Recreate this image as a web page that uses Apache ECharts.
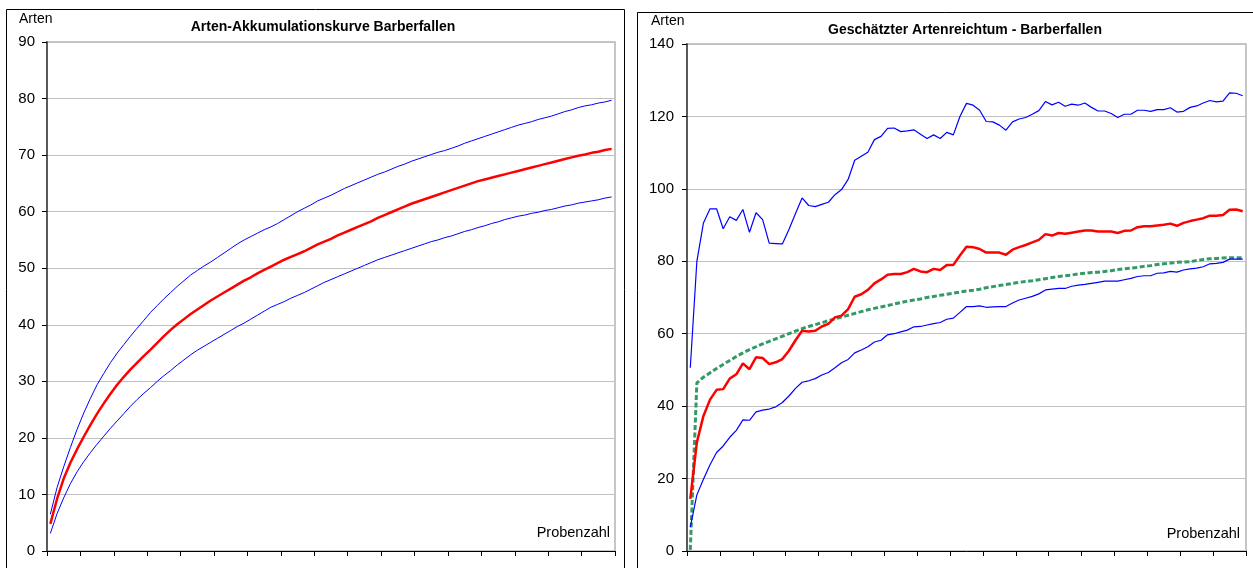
<!DOCTYPE html>
<html>
<head>
<meta charset="utf-8">
<script src="https://cdn.jsdelivr.net/npm/echarts@6/dist/echarts.min.js"></script>
<style>
  html, body { margin: 0; padding: 0; background: #fff; }
  #chart { width: 1253px; height: 568px; }
</style>
</head>
<body>
<div id="chart"></div>
<script>
// Probenzahl (Kategorien)
const probenzahl = [1,2,3,4,5,6,7,8,9,10,11,12,13,14,15,16,17,18,19,20,21,22,23,24,25,26,27,28,29,30,
  31,32,33,34,35,36,37,38,39,40,41,42,43,44,45,46,47,48,49,50,51,52,53,54,55,56,57,58,59,60,
  61,62,63,64,65,66,67,68,69,70,71,72,73,74,75,76,77,78,79,80,81,82,83,84,85];

// Arten-Akkumulationskurve
const akkuMittel = [4.8,9.2,12.8,15.6,18.0,20.2,22.3,24.3,26.1,27.8,29.4,30.8,32.1,33.3,34.5,35.6,36.8,38.0,39.1,40.1,
  41.0,41.9,42.7,43.5,44.3,45.0,45.7,46.4,47.1,47.8,48.4,49.1,49.7,50.3,50.9,51.5,52.0,52.5,53.0,53.6,
  54.2,54.7,55.2,55.8,56.3,56.8,57.3,57.8,58.3,58.9,59.4,59.9,60.4,60.9,61.4,61.8,62.2,62.6,63.0,63.4,
  63.8,64.2,64.6,65.0,65.4,65.7,66.0,66.3,66.6,66.9,67.2,67.5,67.8,68.1,68.4,68.7,69.0,69.3,69.6,69.9,
  70.1,70.4,70.6,70.9,71.1];
const akkuOben = [6.5,11.2,14.9,18.3,21.5,24.4,27.0,29.4,31.4,33.3,35.0,36.5,38.0,39.4,40.8,42.2,43.4,44.6,45.7,46.8,
  47.8,48.8,49.6,50.4,51.1,51.9,52.7,53.5,54.3,55.0,55.6,56.2,56.8,57.3,57.9,58.6,59.3,60.0,60.6,61.2,
  61.9,62.4,62.9,63.5,64.1,64.6,65.1,65.6,66.1,66.6,67.0,67.5,68.0,68.4,68.9,69.3,69.7,70.1,70.5,70.8,
  71.2,71.6,72.1,72.5,72.9,73.3,73.7,74.1,74.5,74.9,75.3,75.6,75.9,76.3,76.6,76.9,77.3,77.7,78.0,78.4,
  78.7,78.9,79.2,79.4,79.7];
const akkuUnten = [3.1,6.6,9.4,11.9,14.0,15.8,17.4,18.9,20.3,21.7,23.0,24.3,25.6,26.8,27.9,28.9,30.0,31.0,31.9,32.9,
  33.8,34.7,35.5,36.2,36.9,37.6,38.3,39.0,39.7,40.3,41.0,41.7,42.4,43.1,43.6,44.1,44.7,45.2,45.7,46.3,
  46.9,47.5,48.0,48.5,49.0,49.5,50.0,50.5,51.0,51.5,51.9,52.3,52.7,53.1,53.5,53.9,54.3,54.7,55.0,55.4,
  55.7,56.1,56.5,56.8,57.2,57.5,57.9,58.2,58.6,58.9,59.2,59.4,59.7,59.9,60.2,60.4,60.7,61.0,61.2,61.5,
  61.7,61.9,62.1,62.4,62.6];

// Geschätzter Artenreichtum
const schaetzMittel = [14.4,30.0,37.3,41.8,44.5,44.7,47.6,48.8,51.8,50.2,53.5,53.3,51.6,52.1,53.0,55.3,58.2,60.8,60.6,60.8,
  62.0,62.7,64.5,65.0,66.8,70.2,70.9,72.1,73.9,75.0,76.3,76.5,76.5,77.0,77.9,77.2,77.0,77.9,77.6,79.0,
  79.0,81.6,84.0,83.9,83.4,82.4,82.4,82.4,81.8,83.2,83.9,84.5,85.2,85.9,87.5,87.1,87.8,87.6,87.9,88.2,
  88.5,88.5,88.2,88.2,88.2,87.8,88.4,88.5,89.4,89.7,89.7,89.9,90.1,90.4,89.8,90.6,91.1,91.5,91.9,92.6,
  92.6,92.8,94.2,94.3,93.8];
const schaetzOben = [50.6,80.0,90.6,94.5,94.5,89.0,92.3,91.3,94.3,88.0,93.4,91.5,85.0,84.9,84.8,88.8,93.2,97.5,95.4,95.1,
  95.7,96.3,98.4,99.8,102.6,107.9,109.0,110.1,113.6,114.5,116.7,116.8,115.8,116.0,116.3,115.1,113.9,114.9,113.9,115.6,
  114.9,120.0,123.6,123.1,121.7,118.6,118.5,117.6,116.2,118.5,119.3,119.7,120.6,121.6,124.1,123.2,123.9,122.8,123.4,123.1,
  123.7,122.5,121.5,121.5,120.8,119.7,120.6,120.6,121.7,121.7,121.4,121.9,121.9,122.4,121.2,121.4,122.5,122.9,123.7,124.4,
  124.0,124.2,126.5,126.4,125.7];
const schaetzUnten = [6.6,15.5,19.8,23.8,27.2,29.0,31.4,33.3,36.2,36.1,38.4,38.9,39.2,39.8,41.0,42.8,44.9,46.6,47.0,47.6,
  48.6,49.3,50.6,52.0,52.9,54.7,55.5,56.4,57.7,58.2,59.7,60.0,60.5,61.0,61.9,62.0,62.4,62.8,63.1,64.0,
  64.3,65.9,67.5,67.5,67.7,67.3,67.4,67.5,67.5,68.5,69.3,69.8,70.3,71.0,72.1,72.3,72.5,72.5,73.1,73.4,
  73.6,73.9,74.2,74.5,74.5,74.5,74.9,75.3,75.8,76.0,76.0,76.7,76.8,77.2,77.0,77.6,77.9,78.1,78.5,79.3,
  79.4,79.7,80.6,80.6,80.6];
const schaetzKurve = [0.3,46.4,48.0,49.2,50.4,51.5,52.6,53.7,54.7,55.6,56.4,57.2,57.9,58.6,59.3,60.0,60.7,61.4,62.0,62.5,
  63.0,63.6,64.1,64.6,65.1,65.6,66.1,66.6,67.0,67.4,67.8,68.2,68.6,69.0,69.3,69.6,70.0,70.3,70.6,70.9,
  71.2,71.5,71.8,72.0,72.3,72.7,73.0,73.3,73.6,73.9,74.2,74.4,74.6,74.9,75.2,75.5,75.8,76.0,76.2,76.5,
  76.7,76.9,77.0,77.2,77.4,77.7,77.9,78.1,78.3,78.6,78.8,79.1,79.3,79.5,79.7,79.8,79.9,80.2,80.5,80.7,
  80.8,80.9,81.0,81.0,81.0];

const FONT = "'Liberation Sans', Arial, sans-serif";

const chart = echarts.init(document.getElementById('chart'));

const xAxisBase = (gi) => ({
  type: 'category',
  gridIndex: gi,
  data: probenzahl,
  boundaryGap: true,
  axisLine: { show: true, lineStyle: { color: '#000', width: 1 } },
  axisTick: { show: true, interval: 4, alignWithLabel: false, length: 5, lineStyle: { color: '#000', width: 1 } },
  axisLabel: { show: true, interval: 4, color: 'rgba(0,0,0,0)', fontSize: 1 },
  splitLine: { show: false }
});

const yAxisBase = (gi, max, step, margin) => ({
  type: 'value',
  gridIndex: gi,
  min: 0,
  max: max,
  interval: step,
  axisLine: { show: true, lineStyle: { color: '#5a5a5a', width: 2 } },
  axisTick: { show: true, length: 5, lineStyle: { color: '#000' } },
  axisLabel: { color: '#000', fontFamily: FONT, fontSize: 15, margin: margin },
  splitLine: { lineStyle: { color: '#c0c0c0', width: 1 } }
});

const line = (name, xi, data, color, width, type) => ({
  name: name,
  type: 'line',
  xAxisIndex: xi,
  yAxisIndex: xi,
  data: data,
  symbol: 'none',
  lineStyle: { color: color, width: width, type: type || 'solid' },
  z: 3
});

chart.setOption({
  animation: false,
  backgroundColor: '#fff',
  title: [
    { text: 'Arten-Akkumulationskurve Barberfallen', left: 318, top: 15, textAlign: 'center',
      textStyle: { fontFamily: FONT, fontSize: 14, fontWeight: 'bold', color: '#000' } },
    { text: 'Geschätzter Artenreichtum - Barberfallen', left: 960, top: 18, textAlign: 'center',
      textStyle: { fontFamily: FONT, fontSize: 14, fontWeight: 'bold', color: '#000' } }
  ],
  grid: [
    { left: 47, top: 42, width: 568, height: 509, show: true, borderColor: '#b4b4b4', borderWidth: 1.5 },
    { left: 687, top: 44, width: 559, height: 507, show: true, borderColor: '#b4b4b4', borderWidth: 1.5 }
  ],
  xAxis: [xAxisBase(0), xAxisBase(1)],
  yAxis: [yAxisBase(0, 90, 10, 12), yAxisBase(1, 140, 20, 13)],
  graphic: [
    { type: 'rect', shape: { x: 6.5, y: 9.5, width: 618, height: 600 },
      style: { fill: 'none', stroke: '#000', lineWidth: 1 }, silent: true },
    { type: 'rect', shape: { x: 637.5, y: 12.5, width: 640, height: 600 },
      style: { fill: 'none', stroke: '#000', lineWidth: 1 }, silent: true },
    { type: 'text', left: 19, top: 12, style: { text: 'Arten', font: '14px ' + FONT, fill: '#000' } },
    { type: 'text', left: 651, top: 14, style: { text: 'Arten', font: '14px ' + FONT, fill: '#000' } },
    { type: 'text', right: 1253 - 610, top: 525, style: { text: 'Probenzahl', font: '14.5px ' + FONT, fill: '#000' } },
    { type: 'text', right: 1253 - 1240, top: 526, style: { text: 'Probenzahl', font: '14.5px ' + FONT, fill: '#000' } }
  ],
  series: [
    line('Obere Grenze', 0, akkuOben, '#0000ff', 1),
    line('Untere Grenze', 0, akkuUnten, '#0000ff', 1),
    line('Arten', 0, akkuMittel, '#ff0000', 2.5),
    line('Schätzkurve', 1, schaetzKurve, '#339966', 3, [5, 2.5]),
    line('Obere Grenze', 1, schaetzOben, '#0000ff', 1.2),
    line('Untere Grenze', 1, schaetzUnten, '#0000ff', 1.2),
    line('Geschätzt', 1, schaetzMittel, '#ff0000', 2.5)
  ]
});
</script>
</body>
</html>
